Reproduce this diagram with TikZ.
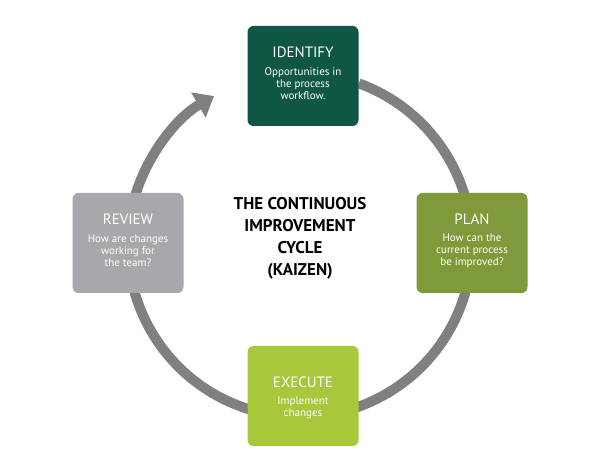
\documentclass[tikz,border=0pt]{standalone}
\usepackage{fontspec}
\setmainfont{PT Sans}
\usetikzlibrary{arrows.meta}
\definecolor{cid}{RGB}{16,86,68}
\definecolor{cpl}{RGB}{127,154,58}
\definecolor{cex}{RGB}{168,200,60}
\definecolor{crv}{RGB}{166,168,171}
\definecolor{carc}{RGB}{128,128,130}
\begin{document}
\begin{tikzpicture}[x=1pt,y=1pt,
  stagebox/.style={rounded corners=6pt,minimum width=111pt,minimum height=100pt,text=white,inner sep=0pt},
  ttl/.style={font=\fontsize{15}{17}\selectfont},
  bdy/.style={font=\fontsize{11}{12}\selectfont,align=center}]
\useasboundingbox (0,0) rectangle (600,474);
\fill[white] (0,0) rectangle (600,474);
\coordinate (c) at (300,229);
\coordinate (s) at ([shift={(70:172)}]c);
\draw[carc,line width=10pt,-{Triangle[length=18pt,width=28pt]}]
  (s) arc[start angle=70,end angle=-240,radius=172];
\node[stagebox,fill=cid] (id) at (303,398) {};
\node[stagebox,fill=cpl] (pl) at (472,231) {};
\node[stagebox,fill=cex] (ex) at (303,78) {};
\node[stagebox,fill=crv] (rv) at (128,231) {};
\node[ttl,text=white] at ([yshift=24pt]id.center) {IDENTIFY};
\node[bdy,text=white] at ([yshift=-8pt]id.center) {Opportunities in\\the process\\workflow.};
\node[ttl,text=white] at ([yshift=24pt]pl.center) {PLAN};
\node[bdy,text=white] at ([yshift=-8pt]pl.center) {How can the\\current process\\be improved?};
\node[ttl,text=white] at ([yshift=14pt]ex.center) {EXECUTE};
\node[bdy,text=white] at ([yshift=-12pt]ex.center) {Implement\\changes};
\node[ttl,text=white] at ([yshift=24pt]rv.center) {REVIEW};
\node[bdy,text=white] at ([yshift=-8pt]rv.center) {How are changes\\working for\\the team?};
\node[font=\fontsize{17}{22}\selectfont\bfseries,align=center] (t) at (300,236) {THE CONTINUOUS\\IMPROVEMENT\\CYCLE\\(KAIZEN)};
\end{tikzpicture}
\end{document}
